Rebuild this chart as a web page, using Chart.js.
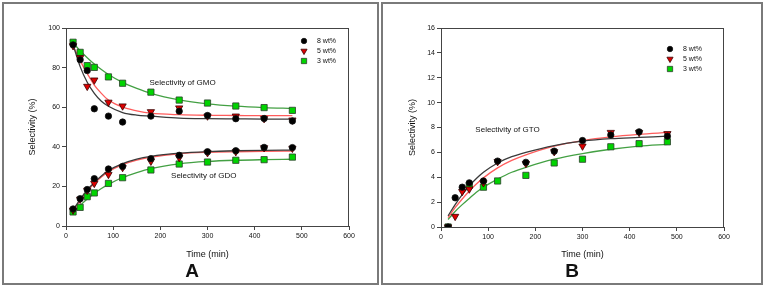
<!DOCTYPE html>
<html>
<head>
<meta charset="utf-8">
<script src="https://cdn.jsdelivr.net/npm/chart.js@4.4.0/dist/chart.umd.min.js"></script>
<style>
  body { margin: 0; background: #fff; width: 765px; height: 287px; position: relative; overflow: hidden; }
  .frame { position: absolute; top: 2px; height: 283px; border: 2px solid #7a7a7a; box-sizing: border-box; }
  canvas { position: absolute; top: 0; }
</style>
</head>
<body>
<div class="frame" style="left:2px;width:377px;"></div>
<div class="frame" style="left:381px;width:382px;"></div>
<canvas id="chart_a" width="380" height="287" style="left:0"></canvas>
<canvas id="chart_b" width="385" height="287" style="left:380px"></canvas>
<script>
// sampling times (min)
const times = [15, 30, 45, 60, 90, 120, 180, 240, 300, 360, 420, 480];
// measured selectivity (%) - panel A
const gmo8 = [91.5, 84, 78.5, 59.2, 55.5, 52.5, 55.5, 58, 55.8, 54.2, 54.3, 53];
const gmo5 = [91, 85, 70.5, 73.7, 62.5, 60.6, 57.7, 59.6, 55.5, 55.5, 54.2, 53.5];
const gmo3 = [92.8, 87.7, 81, 80.1, 75.3, 72.1, 67.6, 63.6, 62.1, 60.6, 59.8, 58.4];
const gdo8 = [8.6, 13.8, 18.4, 23.9, 28.8, 30.1, 34, 35.7, 37.5, 38, 39.7, 39.6];
const gdo5 = [8, 13.5, 18, 21.5, 26, 29.5, 32.7, 34.5, 37, 37.5, 39.5, 39.2];
const gdo3 = [7.1, 9.4, 14.8, 16.7, 21.5, 24.4, 28.3, 31.3, 32.3, 33.2, 33.5, 34.8];
// measured selectivity (%) - panel B
const gto8 = [0, 2.35, 3.2, 3.55, 3.7, 5.3, 5.2, 6.1, 6.95, 7.4, 7.65, 7.3];
const gto5 = [0, 0.85, 2.85, 3.05, 3.55, 5.25, 5.1, 6.05, 6.5, 7.6, 7.6, 7.5];
const gto3 = [0, null, null, 3.35, 3.2, 3.7, 4.15, 5.15, 5.45, 6.45, 6.7, 6.85];

// fitted curves
const fitTimes = [15, 30, 45, 60, 75, 90, 120, 150, 180, 240, 300, 360, 420, 480];
const gmo8Fit = [91.5, 80.5, 72.6, 67, 63, 60.5, 57.3, 56, 55.5, 54.5, 54.2, 54.1, 54, 54];
const gmo5Fit = [91, 83.5, 77, 71.2, 67, 63.6, 60, 58.2, 57, 56.2, 55.9, 55.8, 55.7, 55.7];
const gmo3Fit = [92.5, 88.5, 85, 81.8, 79, 76.5, 72.5, 69.5, 67, 63.7, 61.7, 60.5, 59.8, 59.4];
const gdo8Fit = [8, 13.5, 18.2, 22, 25.3, 28, 31.5, 33.8, 35.2, 36.8, 37.6, 38, 38.2, 38.3];
const gdo5Fit = [7.5, 13, 17.6, 21.4, 24.7, 27.4, 31, 33.3, 34.8, 36.5, 37.2, 37.5, 37.7, 37.8];
const gdo3Fit = [6.5, 10.3, 13.6, 16.4, 18.9, 21, 24.5, 27, 29, 31.4, 32.6, 33.2, 33.5, 33.7];
const gto8Fit = [0.9, 1.8, 2.6, 3.3, 3.9, 4.4, 5.15, 5.65, 6, 6.55, 6.9, 7.1, 7.2, 7.3];
const gto5Fit = [0.75, 1.55, 2.25, 2.9, 3.45, 3.95, 4.75, 5.35, 5.8, 6.5, 6.95, 7.25, 7.45, 7.6];
const gto3Fit = [0.6, 1.25, 1.8, 2.3, 2.8, 3.2, 3.85, 4.4, 4.8, 5.45, 5.9, 6.25, 6.5, 6.65];

const loadings = ["8 wt%", "5 wt%", "3 wt%"];
const xTicks = [0, 100, 200, 300, 400, 500, 600];

const FONT = "Arial, 'Liberation Sans', sans-serif";
const marks = [
  { style: "circle", rot: 0, r: 3.2, fill: "#000", edge: "#111", line: "#3a3a3a" },
  { style: "triangle", rot: 180, r: 4.2, fill: "#dd0000", edge: "#3a0000", line: "#ff5c5c" },
  { style: "rect", rot: 0, r: 4.4, fill: "#00d400", edge: "#2b3f2b", line: "#43a043" },
];

function pts(xs, ys) {
  return xs.map((x, i) => ({ x: x, y: ys[i] })).filter(p => p.y !== null);
}

function pointSet(ys, k) {
  const m = marks[k];
  return {
    data: pts(times, ys), showLine: false, order: 1,
    pointStyle: m.style, rotation: m.rot, pointRadius: m.r,
    backgroundColor: m.fill, borderColor: m.edge, borderWidth: 0.8,
  };
}

function fitSet(ys, k) {
  return {
    data: pts(fitTimes, ys), showLine: true, order: 2, pointRadius: 0,
    borderColor: marks[k].line, borderWidth: 1.3, cubicInterpolationMode: "monotone",
  };
}

// frame, texts and legend drawn on top of the chart
const decor = {
  id: "decor",
  afterDraw(chart) {
    const c = chart.ctx, a = chart.chartArea, o = chart.options.plugins.decor;
    c.save();
    c.strokeStyle = "#444";
    c.lineWidth = 1;
    c.strokeRect(a.left + 0.5, a.top + 0.5, a.right - a.left - 1, a.bottom - a.top);
    c.fillStyle = "#111";
    c.textAlign = "center";
    c.textBaseline = "middle";
    c.font = "8px " + FONT;
    const xs = chart.scales.x, ys = chart.scales.y;
    o.notes.forEach(n => c.fillText(n.text, xs.getPixelForValue(n.x), ys.getPixelForValue(n.y)));
    c.font = "9px " + FONT;
    c.fillText("Time (min)", (a.left + a.right) / 2, 255);
    c.save();
    c.translate(33, (a.top + a.bottom) / 2);
    c.rotate(-Math.PI / 2);
    c.fillText("Selectivity (%)", 0, 0);
    c.restore();
    c.font = "bold 19px " + FONT;
    c.fillText(o.letter, 192, 272);
    // legend
    c.font = "7px " + FONT;
    c.textAlign = "left";
    loadings.forEach((lab, k) => {
      const m = marks[k], y = o.legY + k * 10;
      c.fillStyle = m.fill;
      c.strokeStyle = m.edge;
      c.lineWidth = 0.8;
      Chart.helpers.drawPoint(c, { pointStyle: m.style, rotation: m.rot, radius: m.r * 0.85, borderWidth: 0.8 }, o.legX, y);
      c.fillStyle = "#111";
      c.fillText(lab, o.legX + 13, y);
    });
    c.restore();
  }
};

function makePanel(id, yMax, yStep, sets, opts) {
  return new Chart(document.getElementById(id), {
    type: "scatter",
    data: { datasets: sets },
    plugins: [decor],
    options: {
      responsive: false,
      animation: false,
      layout: { padding: { top: 28, right: opts.padRight, left: 0, bottom: 0 } },
      plugins: { legend: { display: false }, tooltip: { enabled: false }, decor: opts },
      scales: {
        x: {
          type: "linear", min: 0, max: 600,
          afterBuildTicks: s => { s.ticks = xTicks.map(v => ({ value: v })); },
          ticks: { font: { size: 7, family: FONT }, color: "#111", padding: 2, maxRotation: 0 },
          grid: { drawOnChartArea: false, drawTicks: true, tickLength: 4, color: "#444" },
          border: { color: "#444", width: 1 },
          afterFit: s => { s.height = opts.xHeight; },
        },
        y: {
          type: "linear", min: 0, max: yMax,
          ticks: { stepSize: yStep, font: { size: 7, family: FONT }, color: "#111", padding: 2 },
          grid: { drawOnChartArea: false, drawTicks: true, tickLength: 4, color: "#444" },
          border: { color: "#444", width: 1 },
          afterFit: s => { s.width = opts.yWidth; },
        },
      },
    },
  });
}

makePanel("chart_a", 100, 20, [
  fitSet(gmo8Fit, 0), fitSet(gmo5Fit, 1), fitSet(gmo3Fit, 2),
  fitSet(gdo8Fit, 0), fitSet(gdo5Fit, 1), fitSet(gdo3Fit, 2),
  pointSet(gmo8, 0), pointSet(gmo5, 1), pointSet(gmo3, 2),
  pointSet(gdo8, 0), pointSet(gdo5, 1), pointSet(gdo3, 2),
], {
  padRight: 31, xHeight: 61, yWidth: 66, letter: "A", legX: 304, legY: 41,
  notes: [{ text: "Selectivity of GMO", x: 247, y: 72.5 }, { text: "Selectivity of GDO", x: 292, y: 25.5 }],
});

makePanel("chart_b", 16, 2, [
  fitSet(gto8Fit, 0), fitSet(gto5Fit, 1), fitSet(gto3Fit, 2),
  pointSet(gto8, 0), pointSet(gto5, 1), pointSet(gto3, 2),
], {
  padRight: 41, xHeight: 60, yWidth: 61, letter: "B", legX: 290, legY: 49,
  notes: [{ text: "Selectivity of GTO", x: 141, y: 7.8 }],
});
</script>
</body>
</html>
